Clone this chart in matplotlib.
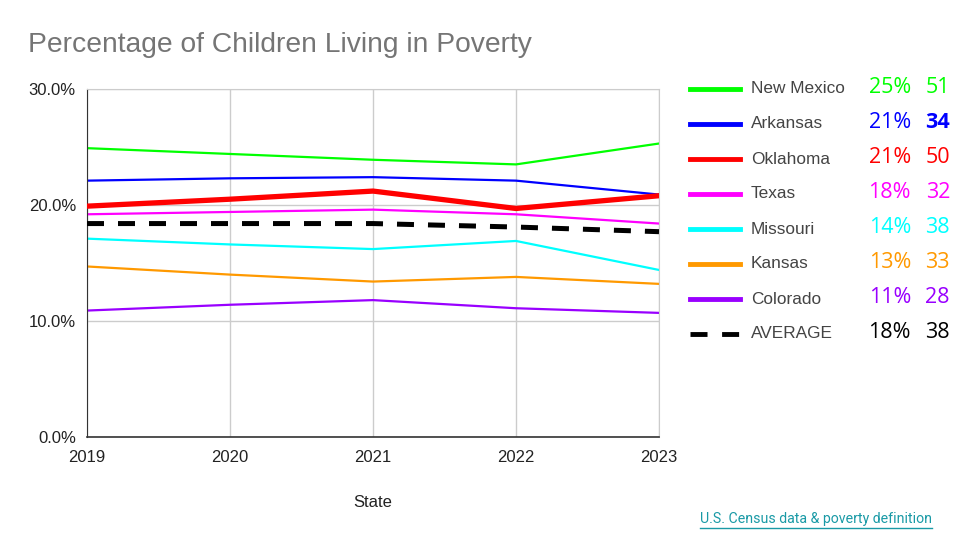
"""Percentage of children living in poverty, 2019-2023."""
import matplotlib
matplotlib.use("Agg")
import matplotlib.pyplot as plt
from matplotlib.lines import Line2D
from matplotlib.ticker import FuncFormatter

years = [2019, 2020, 2021, 2022, 2023]
states = ["New Mexico", "Arkansas", "Oklahoma", "Texas", "Missouri",
          "Kansas", "Colorado", "AVERAGE"]
new_mexico = [24.9, 24.4, 23.9, 23.5, 25.3]
arkansas = [22.1, 22.3, 22.4, 22.1, 20.9]
oklahoma = [19.9, 20.5, 21.2, 19.7, 20.8]
texas = [19.2, 19.4, 19.6, 19.2, 18.4]
missouri = [17.1, 16.6, 16.2, 16.9, 14.4]
kansas = [14.7, 14.0, 13.4, 13.8, 13.2]
colorado = [10.9, 11.4, 11.8, 11.1, 10.7]
average = [18.4, 18.4, 18.4, 18.1, 17.7]
pct_labels = ["25%", "21%", "21%", "18%", "14%", "13%", "11%", "18%"]
num_labels = ["51", "34", "50", "32", "38", "33", "28", "38"]

series = [new_mexico, arkansas, oklahoma, texas, missouri, kansas, colorado, average]
colors = ["#00ff00", "#0000ff", "#ff0000", "#ff00ff", "#00ffff",
          "#ff9900", "#9900ff", "#000000"]
widths = [1.6, 1.6, 3.8, 1.6, 1.6, 1.6, 1.6, 3.6]

fig = plt.figure(figsize=(9.6, 5.4), dpi=100)
ax = fig.add_axes([87 / 960, 1 - 437 / 540, 572 / 960, 348 / 540])

for vals, col, lw, name in zip(series, colors, widths, states):
    if name == "AVERAGE":
        ax.plot(years, vals, color=col, lw=lw, dashes=(3.4, 2.8), zorder=3)
    else:
        ax.plot(years, vals, color=col, lw=lw, zorder=3 if name == "Oklahoma" else 2)

ax.set_xlim(2019, 2023)
ax.set_ylim(0, 30)
ax.set_xticks(years)
ax.set_yticks([0, 10, 20, 30])
ax.yaxis.set_major_formatter(FuncFormatter(lambda v, p: f"{v:.1f}%"))
ax.grid(True, color="#cccccc", lw=1)
ax.set_axisbelow(True)
ax.tick_params(length=0, labelsize=12, colors="#222222")
ax.tick_params(axis="x", pad=9)
ax.tick_params(axis="y", pad=8)
for lab in ax.get_xticklabels() + ax.get_yticklabels():
    lab.set_family("Liberation Sans")
ax.spines["top"].set_color("#cccccc")
ax.spines["right"].set_color("#cccccc")
ax.spines["left"].set_color("#333333")
ax.spines["bottom"].set_color("#333333")
ax.spines["bottom"].set_linewidth(1.2)
ax.set_xlabel("State", fontsize=12, family="Liberation Sans", color="#222222", labelpad=22)

fig.text(28 / 960, 1 - 45 / 540, "Percentage of Children Living in Poverty",
         fontsize=20.3, color="#757575", family="Liberation Sans", va="center")

# legend with figures
for i, (name, col) in enumerate(zip(states, colors)):
    y = 1 - (89 + 35 * i) / 540
    if name == "AVERAGE":
        fig.add_artist(Line2D([690 / 960, 740 / 960], [y, y], color=col, lw=3.5,
                              dashes=(3.5, 3.0)))
    else:
        fig.add_artist(Line2D([690 / 960, 740 / 960], [y, y], color=col, lw=3.5))
    fig.text(751 / 960, y, name, fontsize=12.4, color="#444444",
             family="Liberation Sans", va="center")
    fig.text(911 / 960, y + 0.002, pct_labels[i], fontsize=15.5, color=col,
             family="Open Sans", va="center", ha="right")
    fig.text(950 / 960, y + 0.002, num_labels[i], fontsize=15.5, color=col,
             family="Open Sans", va="center", ha="right",
             fontweight="bold" if name == "Arkansas" else "normal")

fig.text(932 / 960, 1 - 519 / 540, "U.S. Census data & poverty definition",
         fontsize=10.2, color="#1a9aa6", family="Roboto", va="center", ha="right")
fig.add_artist(Line2D([700 / 960, 932 / 960], [1 - 528 / 540, 1 - 528 / 540],
                      color="#1a9aa6", lw=1))

fig.savefig("out.png", dpi=100)
